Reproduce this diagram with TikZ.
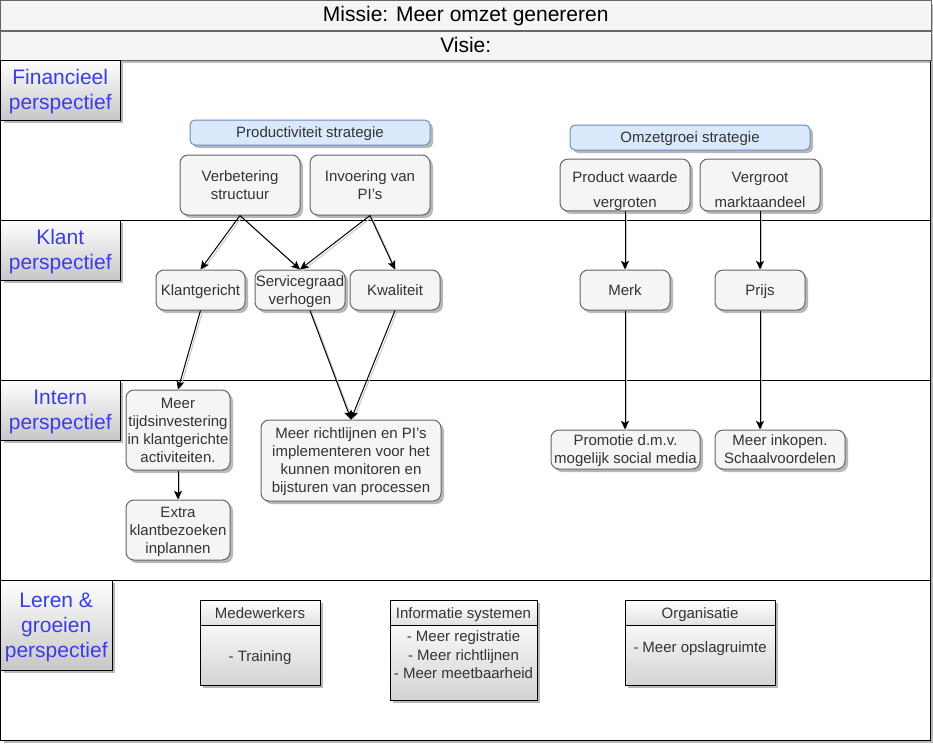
\documentclass[tikz,border=0pt]{standalone}
\usepackage{fontspec}
\setmainfont{Liberation Sans}
\usetikzlibrary{shadows,calc,arrows.meta}
\definecolor{nfill}{HTML}{F5F5F5}
\definecolor{ndraw}{HTML}{666666}
\definecolor{ntext}{HTML}{333333}
\definecolor{bfill}{HTML}{DAE8FC}
\definecolor{bdraw}{HTML}{6C8EBF}
\definecolor{lblue}{HTML}{3C3CE6}
\newcommand\sst{\rule[-2.83pt]{0pt}{13.5pt}}
\newcommand\lst{\rule[-3.97pt]{0pt}{18.9pt}}
\newcommand\barst{\rule[-3.5pt]{0pt}{17pt}}
\begin{document}
\begin{tikzpicture}[x=0.75pt,y=-0.75pt,
  bw/.style={minimum width=#1*0.75pt},
  bh/.style={minimum height=#1*0.75pt},
  sstrut/.style={execute at begin node=\sst, execute at end node=\sst},
  shad/.style={drop shadow={shadow xshift=2.25pt,shadow yshift=-2.25pt,fill=black,opacity=0.28}},
  rbox/.style={draw=ndraw, line width=0.75pt, fill=nfill, rounded corners=6pt, text=ntext,
    font=\fontsize{11.25}{13.5}\selectfont, align=center, inner sep=0pt, sstrut, shad},
  bbox/.style={rbox, draw=bdraw, fill=bfill, rounded corners=3.75pt},
  lane/.style={draw=black, line width=0.75pt, top color=white, bottom color=black!22, text=lblue,
    font=\fontsize{15.75}{18.9}\selectfont, align=center, inner sep=0pt, shad},
  bar/.style={draw=ndraw, line width=0.75pt, fill=nfill, text=black,
    font=\fontsize{15.75}{18.9}\selectfont, inner sep=0pt,
    execute at begin node=\barst, execute at end node=\barst, shad},
  cont/.style={draw=black, line width=0.75pt, fill=white, inner sep=0pt, shad},
  chead/.style={draw=black, line width=0.75pt, top color=white, bottom color=black!12, text=ntext,
    font=\fontsize{11.25}{13.5}\selectfont, inner sep=0pt, sstrut},
  cbody/.style={draw=black, line width=0.75pt, top color=white!97!black, bottom color=black!17, inner sep=0pt},
  ctext/.style={text=ntext, font=\fontsize{11.25}{13.9}\selectfont, align=center, inner sep=0pt, sstrut},
  arr/.style={draw=black, line width=0.75pt, -{Stealth[length=6.5pt,width=6pt,inset=1.5pt]},
    preaction={draw=black!22, line width=0.75pt, -, transform canvas={xshift=1.3pt,yshift=-1.3pt}}},
  divider/.style={draw=black, line width=0.75pt}
]
\useasboundingbox (0,0) rectangle (933,744);
\fill[white] (0,0) rectangle (933,744);

% outer frame
\node[cont, bw=929.5, bh=680] (frame) at (465.25,400) {};

% mission / vision bars
\node[bar, bw=930.5, bh=29.5] (missie) at (465.75,15.25) {Missie: Meer omzet genereren};
\node[bar, bw=930.5, bh=29] (visie) at (465.75,45.5) {Visie:};

% lane dividers
\coordinate (d1l) at (0.5,220); \coordinate (d1r) at (930,220);
\coordinate (d2l) at (0.5,380); \coordinate (d2r) at (930,380);
\coordinate (d3l) at (0.5,580); \coordinate (d3r) at (930,580);
\draw[divider] (d1l) -- (d1r);
\draw[divider] (d2l) -- (d2r);
\draw[divider] (d3l) -- (d3r);

% lane labels
\node[lane, bw=119.5, bh=60] (fin) at (60.25,90) {\lst Financieel\\perspectief\lst};
\node[lane, bw=119.5, bh=60] (klantp) at (60.25,250) {\lst Klant\\perspectief\lst};
\node[lane, bw=119.5, bh=60] (intp) at (60.25,410) {\lst Intern\\perspectief\lst};
\node[lane, bw=111.5, bh=90] (lerp) at (56.25,625) {\lst Leren \&\\groeien\\perspectief\lst};

% financial lane
\node[bbox, bw=240, bh=25] (prod) at (310,132.5) {Productiviteit strategie};
\node[rbox, bw=120, bh=60] (verb) at (240,185) {\sst Verbetering\\structuur\sst};
\node[rbox, bw=120, bh=60] (invo) at (370,185) {\sst Invoering van\\PI's\sst};
\node[bbox, bw=240, bh=25] (omzet) at (690,137.5) {Omzetgroei strategie};
\node[rbox, bw=130, bh=50] (pwaarde) at (625,185) {\rule{0pt}{17.4pt}Product waarde\\[5.25pt]vergroten\sst};
\node[rbox, bw=120, bh=50] (vgroot) at (760,185) {\rule{0pt}{17.4pt}Vergroot\\[5.25pt]marktaandeel\sst};

% customer lane
\node[rbox, bw=89, bh=40] (klant) at (200.5,290) {Klantgericht};
\node[rbox, bw=90, bh=40] (serv) at (300,290) {\sst Servicegraad\\verhogen\sst};
\node[rbox, bw=90, bh=40] (kwal) at (395,290) {Kwaliteit};
\node[rbox, bw=90, bh=40] (merk) at (625,290) {Merk};
\node[rbox, bw=90, bh=40] (prijs) at (760,290) {Prijs};

% internal lane
\node[rbox, bw=104, bh=80] (tijd) at (178,430) {\sst Meer\\tijdsinvestering\\in klantgerichte\\activiteiten.\sst};
\node[rbox, bw=104, bh=60] (extra) at (178,530) {\sst Extra\\klantbezoeken\\inplannen\sst};
\node[rbox, bw=180, bh=81] (richt) at (351,460.5) {\sst Meer richtlijnen en PI's\\implementeren voor het\\kunnen monitoren en\\bijsturen van processen\sst};
\node[rbox, bw=149, bh=39] (promo) at (625.5,449.5) {\sst Promotie d.m.v.\\mogelijk social media\sst};
\node[rbox, bw=130, bh=39] (inkoop) at (780,449.5) {\sst Meer inkopen.\\Schaalvoordelen\sst};

% learning lane containers
\node[cont, bw=120, bh=85] (mede) at (260,642.5) {};
\node[chead, bw=120, bh=25] (medeh) at (260,613) {Medewerkers};
\node[cbody, bw=120, bh=60] (medeb) at (260,655) {};
\node[ctext] (medet) at (260,656.5) {- Training};

\node[cont, bw=147, bh=100] (info) at (463.5,650) {};
\node[chead, bw=147, bh=25] (infoh) at (463.5,613) {Informatie systemen};
\node[cbody, bw=147, bh=75] (infob) at (463.5,662.5) {};
\node[ctext, anchor=north] (infot) at (463.5,627) {\sst - Meer registratie\\- Meer richtlijnen\\- Meer meetbaarheid\sst};

\node[cont, bw=150, bh=85] (org) at (700,642.5) {};
\node[chead, bw=150, bh=25] (orgh) at (700,613) {Organisatie};
\node[cbody, bw=150, bh=60] (orgb) at (700,655) {};
\node[ctext] (orgt) at (700,647.5) {- Meer opslagruimte};

% connectors
\draw[arr] (verb.south) -- (klant.north);
\draw[arr] (verb.south) -- (serv.north);
\draw[arr] (invo.south) -- (serv.north);
\draw[arr] (invo.south) -- (kwal.north);
\draw[arr] (pwaarde.south) -- (merk.north);
\draw[arr] (vgroot.south) -- (prijs.north);
\draw[arr] (klant.south) -- (tijd.north);
\draw[arr] ($(serv.south)+(10,0)$) -- (richt.north);
\draw[arr] (kwal.south) -- (richt.north);
\draw[arr] (tijd.south) -- (extra.north);
\draw[arr] (merk.south) -- (merk.south |- promo.north);
\draw[arr] (prijs.south) -- (prijs.south |- inkoop.north);
\end{tikzpicture}
\end{document}
